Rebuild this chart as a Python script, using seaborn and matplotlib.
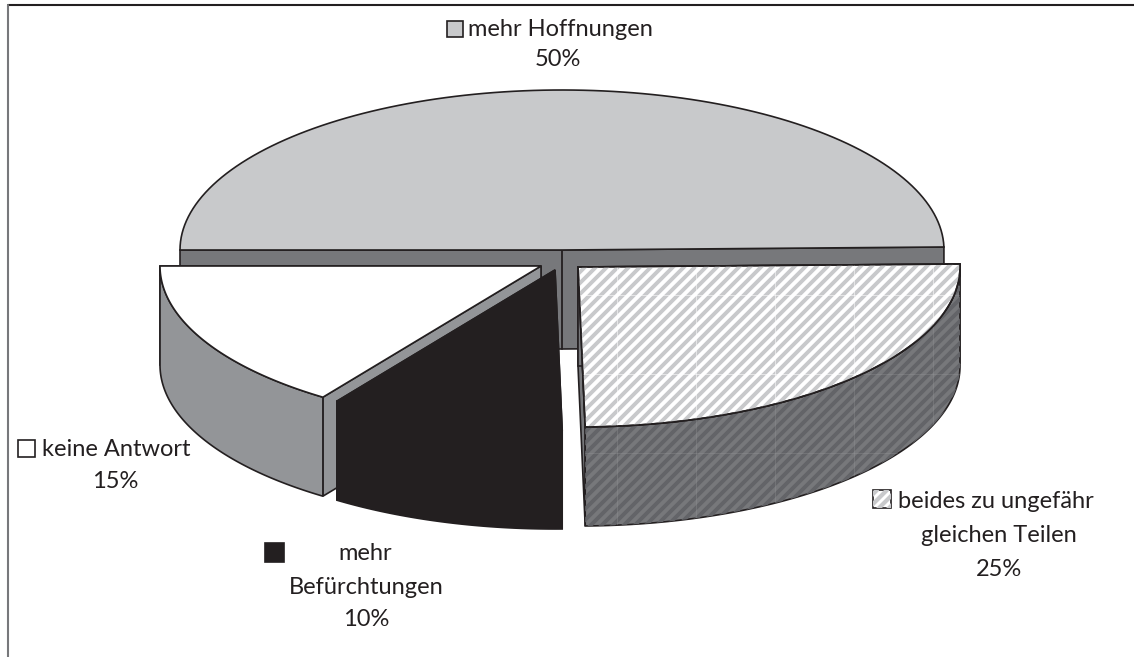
import numpy as np
import seaborn as sns
import matplotlib.pyplot as plt
from matplotlib.patches import Polygon

# shares as measured from the slice angles, labels show them rounded
categories = ['mehr Hoffnungen', 'beides zu ungefähr gleichen Teilen', 'mehr Befürchtungen', 'keine Antwort']
shares = [49.7, 25.0, 10.0, 15.3]

top_colors = ['#c8c9cb', '#ffffff', '#231f20', '#ffffff']
side_colors = ['#77787b', '#77787b', '#231f20', '#939598']
centers = [(562, 250), (578, 267), (555, 270), (541, 266)]
layers = [1, 4, 3, 2]
radii = [(382, 160), (382, 160), (381, 160), (381, 160)]
depth = 99
ink = '#231f20'

sns.set_theme(style='white')
plt.rcParams['font.family'] = ['Lato', 'DejaVu Sans']

fig, ax = plt.subplots(figsize=(11.34, 6.57), dpi=100)
ax.set_position([0, 0, 1, 1])
ax.set_xlim(0, 1134)
ax.set_ylim(657, 0)
ax.axis('off')


def arc(center, radius, start, end):
    t = np.radians(np.linspace(start, end, 120))
    return np.column_stack([center[0] + radius[0] * np.cos(t), center[1] - radius[1] * np.sin(t)])


def face(points, color, z, edge=ink):
    p = Polygon(points, closed=True, facecolor=color, edgecolor=edge, linewidth=1.2, zorder=z, joinstyle='miter')
    ax.add_patch(p)
    return p


def stripes(patch, color, z, seam, seam_alpha):
    # hatch drawn by hand so the spacing can match the scan
    for c in np.arange(500, 1700, 11):
        line, = ax.plot([c - 700, c], [700, 0], color=color, lw=2.8, zorder=z, solid_capstyle='butt')
        line.set_clip_path(patch)
    for x in np.arange(617, 1000, 79):
        line, = ax.plot([x, x], [200, 560], color=seam, lw=0.7, alpha=seam_alpha, zorder=z)
        line.set_clip_path(patch)
    for y in np.arange(295, 560, 79):
        line, = ax.plot([560, 980], [y, y], color=seam, lw=0.7, alpha=seam_alpha, zorder=z)
        line.set_clip_path(patch)


sweeps = np.array(shares) / 100 * 360
angle = 180.0
for i in range(len(shares)):
    start, end = angle, angle - sweeps[i]
    angle = end
    c = np.array(centers[i], dtype=float)
    down = np.array([0, depth])
    rim = arc(c, radii[i], start, end)
    z = layers[i] * 10

    if i == 0:
        # back half, only the flat cut faces show
        face(np.vstack([rim[0], c, rim[-1], rim[-1] + down, c + down, rim[0] + down]), side_colors[i], z)
        ax.plot([c[0], c[0]], [c[1], c[1] + depth], color=ink, lw=1.3, zorder=z + 1)
    else:
        face(np.vstack([c, rim[-1], rim[-1] + down, c + down]), side_colors[i], z, edge=ink)
        face(np.vstack([c, rim[0], rim[0] + down, c + down]), side_colors[i], z)
        # outer wall, just the part of the rim facing us
        front = rim[rim[:, 1] >= c[1] - 6]
        wall = face(np.vstack([front, (front + down)[::-1]]), side_colors[i], z + 1)
        if i == 1:
            stripes(wall, '#636468', z + 1.5, '#9a9b9e', 0.3)

    top = face(np.vstack([c, rim]), top_colors[i], z + 2)
    if i == 1:
        stripes(top, '#c8c9cb', z + 3, '#ffffff', 0.55)
        face(np.vstack([c, rim]), 'none', z + 4)

# frame of the scanned page
ax.plot([8, 1134], [5, 5], color=ink, lw=1.5, zorder=1)
ax.plot([8, 8], [5, 657], color='#77787b', lw=1.5, zorder=1)

# labels
txt = dict(color=ink, fontsize=17, va='center', zorder=100)
ax.text(468, 30, 'mehr Hoffnungen', ha='left', **txt)
ax.text(558, 60, f'{round(shares[0])}%', ha='center', **txt)
ax.text(42, 449, 'keine Antwort', ha='left', **txt)
ax.text(115, 481, f'{round(shares[3])}%', ha='center', **txt)
ax.text(365, 553, 'mehr', ha='center', **txt)
ax.text(366, 587, 'Befürchtungen', ha='center', **txt)
ax.text(366, 620, f'{round(shares[2])}%', ha='center', **txt)
ax.text(898, 501, 'beides zu ungefähr', ha='left', **txt)
ax.text(999, 536, 'gleichen Teilen', ha='center', **txt)
ax.text(999, 569, f'{round(shares[1])}%', ha='center', **txt)

# legend keys next to the labels
key_spots = [(447, 21, 16), (873, 490, 18), (265, 543, 19), (18, 440, 17)]
key_fill = ['#c8c9cb', '#ffffff', '#231f20', '#ffffff']
for (x, y, s), col in zip(key_spots, key_fill):
    box = face([(x, y), (x + s, y), (x + s, y + s), (x, y + s)], col, 100)
    if x == 873:
        for c in np.arange(x + 4, x + 2 * s, 10):
            line, = ax.plot([c - 30, c], [y + 30, y], color='#c8c9cb', lw=3, zorder=101)
            line.set_clip_path(box)

fig.savefig('out.png', dpi=100)
